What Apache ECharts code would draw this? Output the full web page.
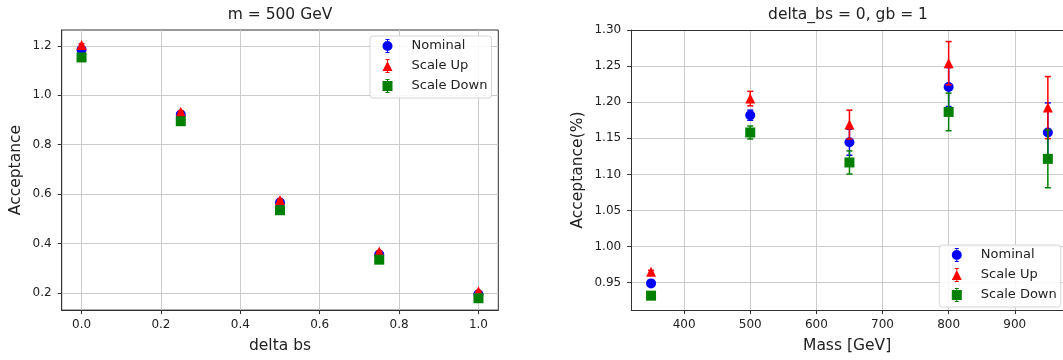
<!DOCTYPE html>
<html>
<head>
<meta charset="utf-8">
<title>Acceptance</title>
<script src="https://cdn.jsdelivr.net/npm/echarts@6/dist/echarts.min.js"></script>
<style>
  html, body { margin: 0; padding: 0; background: #ffffff; }
  #chart { width: 1063px; height: 360px; }
</style>
</head>
<body>
<div id="chart"></div>
<script>
// Left panel: acceptance vs delta_bs at m = 500 GeV
const deltaBs = [0, 0.25, 0.5, 0.75, 1.0];
const deltaNominal = [1.184, 0.922, 0.566, 0.356, 0.195];
const deltaNominalErr = [0.005, 0.004, 0.003, 0.002, 0.002];
const deltaUp = [1.203, 0.933, 0.576, 0.368, 0.207];
const deltaUpErr = [0.005, 0.004, 0.003, 0.002, 0.002];
const deltaDown = [1.153, 0.895, 0.535, 0.335, 0.179];
const deltaDownErr = [0.005, 0.004, 0.003, 0.002, 0.002];

// Right panel: acceptance (%) vs mass for delta_bs = 0, gb = 1
const mass = [350, 500, 650, 800, 950];
const massNominal = [0.949, 1.182, 1.1445, 1.221, 1.158];
const massNominalErr = [0.002, 0.007, 0.018, 0.027, 0.041];
const massUp = [0.965, 1.205, 1.169, 1.254, 1.1925];
const massUpErr = [0.002, 0.010, 0.020, 0.030, 0.043];
const massDown = [0.932, 1.158, 1.1165, 1.1865, 1.1215];
const massDownErr = [0.002, 0.009, 0.016, 0.026, 0.040];

// Tick values
const deltaXTicks = [0.0, 0.2, 0.4, 0.6, 0.8, 1.0];
const deltaYTicks = [0.2, 0.4, 0.6, 0.8, 1.0, 1.2];
const massXTicks = [400, 500, 600, 700, 800, 900];
const massYTicks = [0.95, 1.00, 1.05, 1.10, 1.15, 1.20, 1.25, 1.30];

const seriesNames = ['Nominal', 'Scale Up', 'Scale Down'];
const seriesColors = ['#0000ff', '#ff0000', '#008000'];
const seriesSymbols = ['circle', 'triangle', 'rect'];

// Legend handles: marker with a short capped error bar through it
const ICON_CIRCLE = 'path://M3,0L7,0L7,1L5.5,1L5.5,2.5L4.5,2.5L4.5,1L3,1Z' +
  'M0,7A5,5 0 1,1 10,7A5,5 0 1,1 0,7Z' +
  'M4.5,11.5L5.5,11.5L5.5,13L7,13L7,14L3,14L3,13L4.5,13Z';
const ICON_TRIANGLE = 'path://M3,0L7,0L7,1L5.5,1L5.5,2.5L4.5,2.5L4.5,1L3,1Z' +
  'M5,2L10,12L0,12Z' +
  'M4.5,11.5L5.5,11.5L5.5,13L7,13L7,14L3,14L3,13L4.5,13Z';
const ICON_SQUARE = 'path://M3,0L7,0L7,1L5.5,1L5.5,2.5L4.5,2.5L4.5,1L3,1Z' +
  'M0,2L10,2L10,12L0,12Z' +
  'M4.5,11.5L5.5,11.5L5.5,13L7,13L7,14L3,14L3,13L4.5,13Z';
const legendIcons = [ICON_CIRCLE, ICON_TRIANGLE, ICON_SQUARE];

const FONT = 'DejaVu Sans';
const TEXT = '#222222';
const SPINE = '#333333';

function zip3(xs, ys, es) {
  return xs.map((x, i) => [x, ys[i], es[i]]);
}

function renderErrorBar(params, api) {
  const x = api.value(0);
  const y = api.value(1);
  const e = api.value(2);
  const top = api.coord([x, y + e]);
  const bot = api.coord([x, y - e]);
  const style = { stroke: api.visual('color'), lineWidth: 1.5 };
  const cap = 3;
  return {
    type: 'group',
    children: [
      { type: 'line', shape: { x1: top[0], y1: top[1], x2: bot[0], y2: bot[1] }, style: style },
      { type: 'line', shape: { x1: top[0] - cap, y1: top[1], x2: top[0] + cap, y2: top[1] }, style: style },
      { type: 'line', shape: { x1: bot[0] - cap, y1: bot[1], x2: bot[0] + cap, y2: bot[1] }, style: style }
    ]
  };
}

function panelSeries(axisIndex, xs, groups) {
  const out = [];
  groups.forEach((g, k) => {
    const data = zip3(xs, g[0], g[1]);
    out.push({
      name: seriesNames[k],
      type: 'custom',
      xAxisIndex: axisIndex,
      yAxisIndex: axisIndex,
      renderItem: renderErrorBar,
      encode: { x: 0, y: 1 },
      itemStyle: { color: seriesColors[k] },
      data: data,
      z: 2 + k * 2,
      silent: true
    });
    out.push({
      name: seriesNames[k],
      type: 'scatter',
      xAxisIndex: axisIndex,
      yAxisIndex: axisIndex,
      symbol: seriesSymbols[k],
      symbolSize: 10,
      itemStyle: { color: seriesColors[k], opacity: 1 },
      data: data.map(d => [d[0], d[1]]),
      z: 3 + k * 2
    });
  });
  return out;
}

function valueAxis(opts) {
  return Object.assign({
    type: 'value',
    scale: true,
    axisLine: { show: true, onZero: false, lineStyle: { color: SPINE, width: 1 } },
    axisTick: { show: true, length: 4, lineStyle: { color: SPINE, width: 1 }, customValues: opts.ticks },
    axisLabel: {
      customValues: opts.ticks,
      color: TEXT, fontFamily: FONT, fontSize: 12, lineHeight: 14,
      margin: opts.margin,
      formatter: v => Number(v).toFixed(opts.digits)
    },
    splitLine: { show: true, lineStyle: { color: '#cccccc', width: 1 } },
    nameLocation: 'middle',
    nameTextStyle: { color: TEXT, fontFamily: FONT, fontSize: 15.5, lineHeight: 18 }
  }, opts.extra);
}

function legendFor(left, top) {
  return {
    orient: 'vertical',
    left: left,
    top: top,
    padding: [3, 4, 5, 12.5],
    itemWidth: 14,
    itemHeight: 14,
    itemGap: 6,
    borderColor: '#d6d6d6',
    borderWidth: 1,
    borderRadius: 3,
    backgroundColor: 'rgba(255,255,255,0.85)',
    textStyle: { color: TEXT, fontFamily: FONT, fontSize: 13, lineHeight: 14, padding: [0, 0, 0, 12] },
    data: seriesNames.map((n, i) => ({ name: n, icon: legendIcons[i] }))
  };
}

const chart = echarts.init(document.getElementById('chart'), null, { renderer: 'canvas' });

const option = {
  animation: false,
  backgroundColor: '#ffffff',
  title: [
    {
      text: 'm = 500 GeV', left: 280, top: 6, textAlign: 'center', padding: 0,
      textStyle: { color: TEXT, fontFamily: FONT, fontSize: 15.5, fontWeight: 'normal', lineHeight: 18 }
    },
    {
      text: 'delta_bs = 0, gb = 1', left: 848, top: 6, textAlign: 'center', padding: 0,
      textStyle: { color: TEXT, fontFamily: FONT, fontSize: 15.5, fontWeight: 'normal', lineHeight: 18 }
    }
  ],
  legend: [legendFor(370, 36), legendFor(939.3, 245)],
  grid: [
    { left: 61.7, right: 564.7, top: 30, bottom: 46.7, show: true, borderColor: SPINE, borderWidth: 1, backgroundColor: 'transparent' },
    // right panel runs past the page edge, so only its left, bottom and top spines show
    { left: 631.2, right: 0, top: 30, bottom: 46.7, show: false }
  ],
  xAxis: [
    valueAxis({ ticks: deltaXTicks, digits: 1, margin: 8,
      extra: { gridIndex: 0, min: -0.05, max: 1.05, name: 'delta bs', nameGap: 25 } }),
    valueAxis({ ticks: massXTicks, digits: 0, margin: 8,
      extra: { gridIndex: 1, min: 320, max: 972.9, name: 'Mass [GeV]', nameGap: 25 } }),
    {
      type: 'value', gridIndex: 1, position: 'top', min: 320, max: 972.9,
      axisLine: { show: true, onZero: false, lineStyle: { color: SPINE, width: 1 } },
      axisTick: { show: false }, axisLabel: { show: false }, splitLine: { show: false }
    }
  ],
  yAxis: [
    valueAxis({ ticks: deltaYTicks, digits: 1, margin: 10,
      extra: { gridIndex: 0, min: 0.131, max: 1.264, name: 'Acceptance', nameGap: 36.7 } }),
    valueAxis({ ticks: massYTicks, digits: 2, margin: 10,
      extra: { gridIndex: 1, min: 0.912, max: 1.30, name: 'Acceptance(%)', nameGap: 44.5 } })
  ],
  series: [].concat(
    panelSeries(0, deltaBs, [
      [deltaNominal, deltaNominalErr],
      [deltaUp, deltaUpErr],
      [deltaDown, deltaDownErr]
    ]),
    panelSeries(1, mass, [
      [massNominal, massNominalErr],
      [massUp, massUpErr],
      [massDown, massDownErr]
    ])
  )
};

chart.setOption(option);
</script>
</body>
</html>
